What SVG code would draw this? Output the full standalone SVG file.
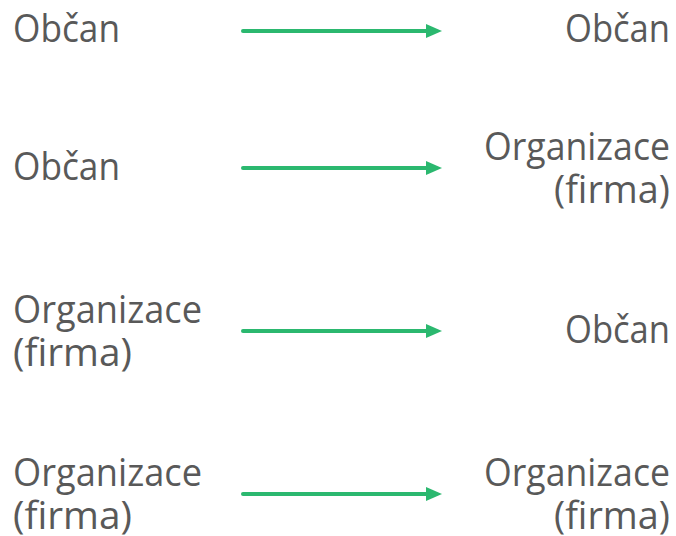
<svg xmlns="http://www.w3.org/2000/svg" width="676" height="536" viewBox="0 0 676 536">
  <defs>
    <marker id="arrowhead" markerWidth="16" markerHeight="14" refX="1" refY="7" orient="auto" markerUnits="userSpaceOnUse">
      <path d="M0,0 L16,7 L0,14 Z" fill="#2bb86f"/>
    </marker>
    <style>
      .label { font-family: "Open Sans", "Noto Sans", sans-serif; font-size: 39px; fill: #595959; font-variant-ligatures: none; }
      .right { text-anchor: end; }
      .flow { stroke: #2bb86f; stroke-width: 4; stroke-linecap: round; fill: none; marker-end: url(#arrowhead); }
    </style>
  </defs>
  <rect width="676" height="536" fill="#ffffff"/>

  <!-- row 1 -->
  <g id="src1"><text class="label" x="13" y="42" textLength="107" lengthAdjust="spacingAndGlyphs">Občan</text></g>
  <g id="dst1"><text class="label right" x="670" y="42" textLength="105" lengthAdjust="spacingAndGlyphs">Občan</text></g>

  <!-- row 2 -->
  <g id="src2"><text class="label" x="13" y="180" textLength="107" lengthAdjust="spacingAndGlyphs">Občan</text></g>
  <g id="dst2">
    <text class="label right" x="670" y="160" textLength="186" lengthAdjust="spacingAndGlyphs">Organizace</text>
    <text class="label right" x="670" y="203" textLength="116" lengthAdjust="spacingAndGlyphs">(firma)</text>
  </g>

  <!-- row 3 -->
  <g id="src3">
    <text class="label" x="13" y="323" textLength="189" lengthAdjust="spacingAndGlyphs">Organizace</text>
    <text class="label" x="13" y="366" textLength="119" lengthAdjust="spacingAndGlyphs">(firma)</text>
  </g>
  <g id="dst3"><text class="label right" x="670" y="343" textLength="105" lengthAdjust="spacingAndGlyphs">Občan</text></g>

  <!-- row 4 -->
  <g id="src4">
    <text class="label" x="13" y="486" textLength="189" lengthAdjust="spacingAndGlyphs">Organizace</text>
    <text class="label" x="13" y="529" textLength="119" lengthAdjust="spacingAndGlyphs">(firma)</text>
  </g>
  <g id="dst4">
    <text class="label right" x="670" y="486" textLength="186" lengthAdjust="spacingAndGlyphs">Organizace</text>
    <text class="label right" x="670" y="529" textLength="116" lengthAdjust="spacingAndGlyphs">(firma)</text>
  </g>

  <g id="connectors">
    <line class="flow" x1="243" y1="31" x2="427" y2="31"/>
    <line class="flow" x1="243" y1="168" x2="427" y2="168"/>
    <line class="flow" x1="243" y1="331" x2="427" y2="331"/>
    <line class="flow" x1="243" y1="494" x2="427" y2="494"/>
  </g>
</svg>
